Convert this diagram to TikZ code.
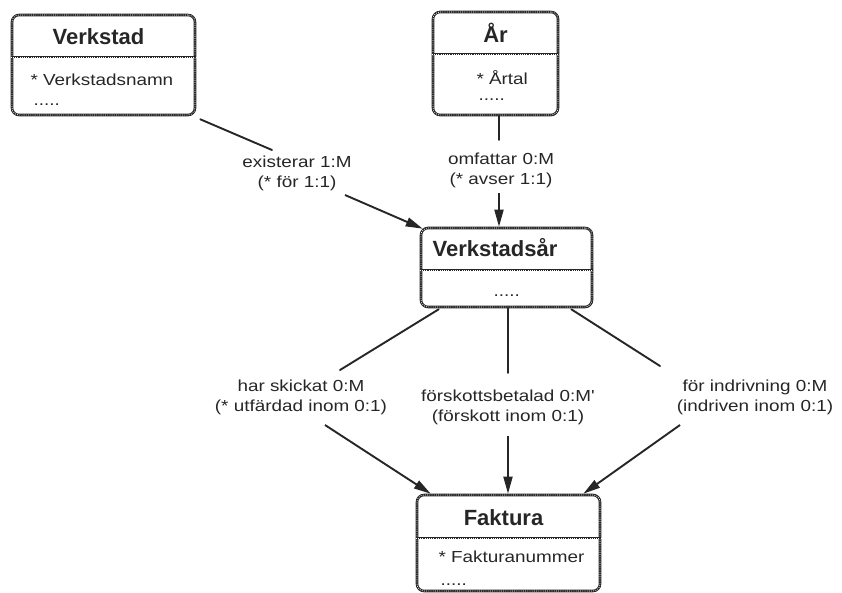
\documentclass[tikz,border=0pt]{standalone}
\usepackage{fontspec}
\setmainfont{Liberation Sans}
\newfontfamily\widesans[FakeStretch=1.18]{Liberation Sans}
\usetikzlibrary{arrows.meta,calc}

\tikzset{
  chain/.style={line width=2.6pt, draw=black!85,
    postaction={draw=white, line width=0.8pt, dash pattern=on 0.8pt off 1.4pt}},
  entity/.style={rectangle, rounded corners=7pt, chain, inner sep=0pt},
  title/.style={font=\fontsize{22}{25}\selectfont\bfseries, anchor=base, text=black!85},
  attr/.style={font=\widesans\fontsize{16}{19}\selectfont, anchor=base west, text=black!85},
  rel/.style={font=\widesans\fontsize{16}{20}\selectfont, align=center, inner sep=2pt, text=black!85},
  link/.style={line width=1.9pt, line cap=round, draw=black!85},
  arr/.style={line width=1.9pt, draw=black!85, -{Triangle[length=17pt,width=9pt]}},
}

\begin{document}
\begin{tikzpicture}[x=1pt,y=-1pt]
\useasboundingbox (0,0) rectangle (842,593);

% --- entities ---
\node[entity, minimum width=183pt, minimum height=100pt] (verkstad) at (103.5,65) {};
\draw[chain] (verkstad.west |- 0,57) -- (verkstad.east |- 0,57);
\node[title] (verkstadT) at (98.5,45) {Verkstad};
\node[attr] (verkstadA) at (27,86) {* Verkstadsnamn};
\node[attr] (verkstadD) at (30,106) {.....};

\node[entity, minimum width=125pt, minimum height=103pt] (ar) at (495.5,63.5) {};
\draw[chain] (ar.west |- 0,54) -- (ar.east |- 0,54);
\node[title] (arT) at (495.5,43) {År};
\node[attr] (arA) at (473,85) {* Årtal};
\node[attr] (arD) at (475,101) {.....};

\node[entity, minimum width=171pt, minimum height=79pt] (vsar) at (506.5,267.5) {};
\draw[chain] (vsar.west |- 0,270) -- (vsar.east |- 0,270);
\node[title] (vsarT) at (495,257) {Verkstadsår};
\node[attr] (vsarD) at (490,296) {.....};

\node[entity, minimum width=183pt, minimum height=96pt] (faktura) at (508.5,543) {};
\draw[chain] (faktura.west |- 0,538) -- (faktura.east |- 0,538);
\node[title] (fakturaT) at (503.5,525) {Faktura};
\node[attr] (fakturaA) at (435,562) {* Fakturanummer};
\node[attr] (fakturaD) at (437,585) {.....};

% --- relationship labels ---
\node[rel] (l1) at (297,173) {existerar 1:M\\(* för 1:1)};
\node[rel] (l2) at (501,170) {omfattar 0:M\\(* avser 1:1)};
\node[rel] (l3) at (301,397) {har skickat 0:M\\(* utfärdad inom 0:1)};
\node[rel] (l4) at (508,407) {förskottsbetalad 0:M'\\(förskott inom 0:1)};
\node[rel] (l5) at (755,397) {för indrivning 0:M\\(indriven inom 0:1)};

% --- break points around the labels ---
\coordinate (k1a) at ($(l1)+(-25,-23)$);
\coordinate (k1b) at ($(l1)+(48,22)$);
\coordinate (k2a) at ($(l2)+(-2,-30)$);
\coordinate (k2b) at ($(l2)+(-2,23)$);
\coordinate (k3a) at ($(l3)+(39,-27)$);
\coordinate (k3b) at ($(l3)+(24,28)$);
\coordinate (k4a) at ($(l4)+(0,-34)$);
\coordinate (k4b) at ($(l4)+(0,29)$);
\coordinate (k5a) at ($(l5)+(-95,-31)$);
\coordinate (k5b) at ($(l5)+(-75,28)$);

% --- connectors ---
\draw[link] ($(verkstad.south east)+(4,3)$) -- (k1a);
\draw[arr] (k1b) -- ($(vsar.north west)+(3,2)$);

\draw[link] (ar.south -| k2a) -- (k2a);
\draw[arr] (k2b) -- (vsar.north -| k2b);

\draw[link] ($(vsar.south west)+(19,1)$) -- (k3a);
\draw[arr] (k3b) -- ($(faktura.north west)+(15,0)$);

\draw[link] (vsar.south -| k4a) -- (k4a);
\draw[arr] (k4b) -- (faktura.north -| k4b);

\draw[link] ($(vsar.south east)+(-22,1)$) -- (k5a);
\draw[arr] (k5b) -- ($(faktura.north east)+(-18,0)$);
\end{tikzpicture}
\end{document}
